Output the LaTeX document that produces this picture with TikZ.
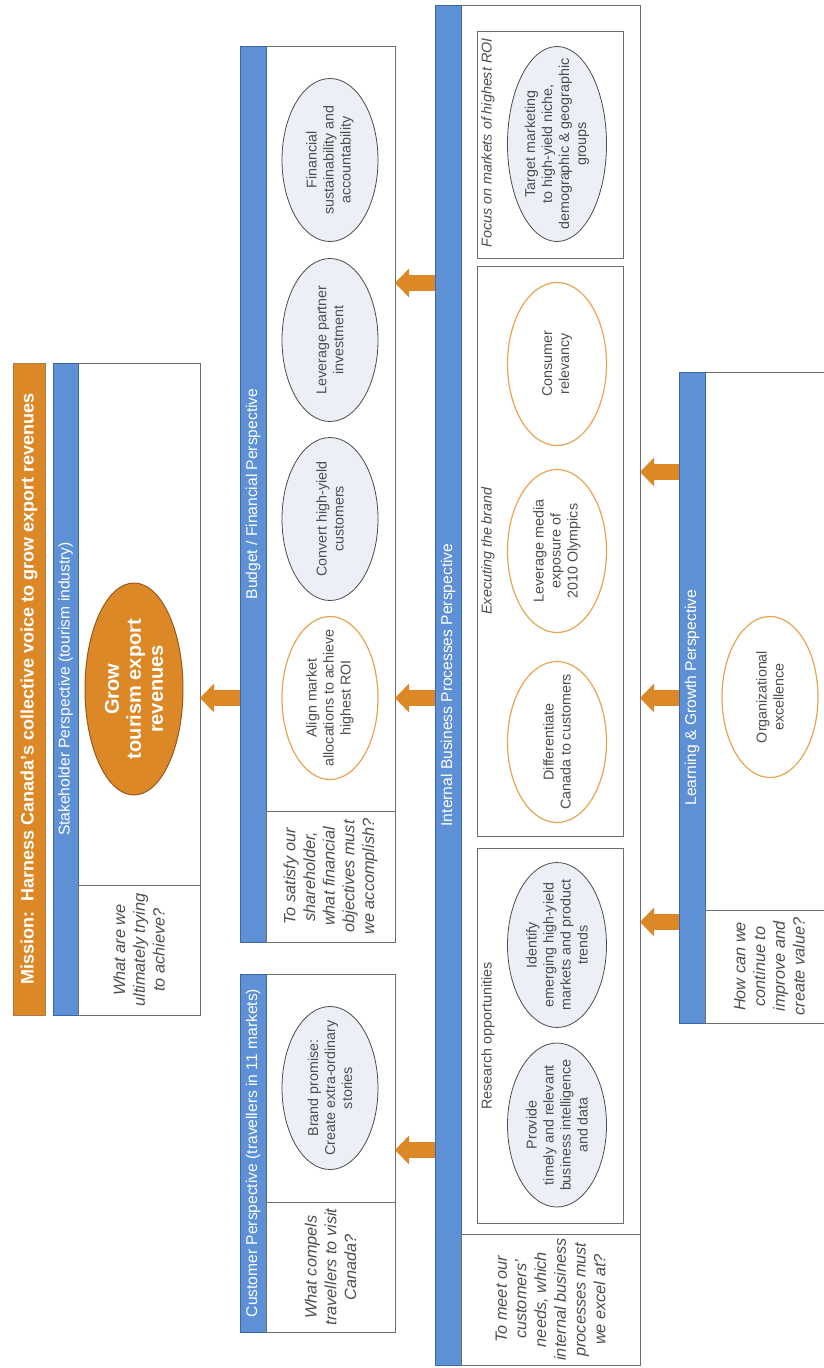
\documentclass[tikz,border=0pt]{standalone}
\usepackage{fontspec}
\setmainfont{Liberation Sans}
\usetikzlibrary{shapes.geometric,arrows.meta}
\definecolor{mapblue}{RGB}{94,144,214}
\definecolor{mapblueedge}{RGB}{62,103,168}
\definecolor{maporange}{RGB}{221,136,38}
\definecolor{maporangeedge}{RGB}{150,90,30}
\definecolor{ringorange}{RGB}{230,165,80}
\definecolor{paleoval}{RGB}{237,239,247}
\definecolor{inkgray}{RGB}{78,78,78}
\definecolor{linegray}{RGB}{110,110,110}

\begin{document}
\begin{tikzpicture}[x=1pt,y=1pt,
  panel/.style={rectangle, draw=linegray, line width=0.9pt, inner sep=0pt, outer sep=0pt, anchor=north west},
  headbar/.style={rectangle, rotate=90, fill=mapblue, draw=mapblueedge, line width=0.8pt, inner sep=0pt, outer sep=0pt, text=white, font=\fontsize{15.6}{18}\selectfont},
  qcell/.style={rectangle, rotate=90, draw=linegray, line width=0.9pt, inner sep=0pt, outer sep=0pt, align=center, text=inkgray, font=\fontsize{16.3}{19.7}\selectfont\itshape},
  goal/.style={ellipse, rotate=90, inner sep=0pt, outer sep=0pt},
  goaltext/.style={rotate=90, inner sep=0pt, align=center, text=inkgray, font=\fontsize{14.3}{17}\selectfont},
  pale/.style={goal, fill=paleoval, draw=black!70, line width=0.8pt},
  ring/.style={goal, fill=white, draw=ringorange, line width=1.2pt},
  caption/.style={rotate=90, inner sep=0pt, text=inkgray, font=\fontsize{14.3}{17}\selectfont},
  flow/.style={draw=maporange, line width=16pt, -{Triangle[length=14pt,width=28pt]}}
]
\useasboundingbox (0,0) rectangle (824,-1368);
\clip (0,0) rectangle (824,-1368);
\fill[white] (0,0) rectangle (824,-1368);

% levels of the connecting arrows
\coordinate (lvA) at (0,-698);
\coordinate (lvB) at (0,-283);
\coordinate (lvC) at (0,-1150);
\coordinate (lvD) at (0,-472);
\coordinate (lvE) at (0,-922);

% mission banner
\node[headbar, fill=maporange, draw=maporangeedge!80, minimum width=652pt, minimum height=32pt,
      font=\fontsize{18}{20}\selectfont\bfseries] (mission) at (29,-689)
      {Mission:\ \ Harness Canada's collective voice to grow export revenues};

% stakeholder perspective
\node[panel, minimum width=147pt, minimum height=652pt] (stakebox) at (53,-363) {};
\node[headbar, minimum width=652pt, minimum height=25pt] (stakebar) at (65.5,-689)
      {Stakeholder Perspective (tourism industry)};
\node[qcell, minimum width=130pt, minimum height=122pt] (stakeq) at (139,-950)
      {What are we\\ultimately trying\\to achieve?};
\node[goal, fill=maporange, draw=maporangeedge, line width=1pt, minimum width=212pt, minimum height=98pt] (grow) at (134,-689) {};
\node[goaltext, text=white, font=\fontsize{20}{22}\selectfont\bfseries] (growtext) at (grow.center)
      {Grow\\tourism export\\revenues};

% budget / financial perspective
\node[panel, minimum width=155pt, minimum height=896pt] (budbox) at (240,-46) {};
\node[headbar, minimum width=896pt, minimum height=26pt] (budbar) at (253,-494)
      {Budget / Financial Perspective};
\node[qcell, minimum width=131pt, minimum height=129pt] (budq) at (330.5,-876.5)
      {To satisfy our\\shareholder,\\what financial\\objectives must\\we accomplish?};
\node[pale, minimum width=163pt, minimum height=96pt] (fin) at (330,-160) {};
\node[goaltext] (fintext) at (fin.center) {Financial\\sustainability and\\accountability};
\node[pale, minimum width=163pt, minimum height=96pt] (partner) at (330,-340) {};
\node[goaltext] (partnertext) at (partner.center) {Leverage partner\\investment};
\node[pale, minimum width=163pt, minimum height=96pt] (convert) at (330,-519) {};
\node[goaltext] (converttext) at (convert.center) {Convert high-yield\\customers};
\node[ring, minimum width=163pt, minimum height=96pt] (align) at (330,-698) {};
\node[goaltext] (aligntext) at (align.center) {Align market\\allocations to achieve\\highest ROI};

% customer perspective
\node[panel, minimum width=155pt, minimum height=358pt] (custbox) at (240,-974) {};
\node[headbar, minimum width=358pt, minimum height=26pt] (custbar) at (253,-1153)
      {Customer Perspective (travellers in 11 markets)};
\node[qcell, minimum width=130pt, minimum height=129pt] (custq) at (330.5,-1267)
      {What compels\\travellers to visit\\Canada?};
\node[pale, minimum width=163pt, minimum height=96pt] (brand) at (330,-1088) {};
\node[goaltext] (brandtext) at (brand.center) {Brand promise:\\Create extra-ordinary\\stories};

% internal business processes perspective
\node[panel, minimum width=205pt, minimum height=1360pt] (intbox) at (435,-5) {};
\node[headbar, minimum width=1360pt, minimum height=26pt] (intbar) at (448,-685)
      {Internal Business Processes Perspective};
\node[qcell, minimum width=131pt, minimum height=179pt] (intq) at (550.5,-1299.5)
      {To meet our\\customers'\\needs, which\\internal business\\processes must\\we excel at?};
\node[panel, minimum width=146pt, minimum height=227pt] (focusbox) at (477,-31) {};
\node[panel, minimum width=146pt, minimum height=570pt] (execbox) at (477,-266) {};
\node[panel, minimum width=146pt, minimum height=375pt] (resbox) at (477,-848) {};
\node[caption, font=\fontsize{14.3}{17}\selectfont\itshape] (focuslbl) at (488,-143)
      {Focus on markets of highest ROI};
\node[caption, font=\fontsize{14.3}{17}\selectfont\itshape] (execlbl) at (488,-551)
      {Executing the brand};
\node[caption] (reslbl) at (488,-1036) {Research opportunities};
\node[pale, minimum width=195pt, minimum height=99pt] (target) at (557,-144) {};
\node[goaltext] (targettext) at (target.center)
      {Target marketing\\to high-yield niche,\\demographic \& geographic\\groups};
\node[ring, minimum width=163pt, minimum height=99pt] (relevancy) at (557,-364) {};
\node[goaltext] (relevancytext) at (relevancy.center) {Consumer\\relevancy};
\node[ring, minimum width=163pt, minimum height=99pt] (media) at (557,-551) {};
\node[goaltext] (mediatext) at (media.center) {Leverage media\\exposure of\\2010 Olympics};
\node[ring, minimum width=161pt, minimum height=99pt] (differ) at (557,-742) {};
\node[goaltext] (differtext) at (differ.center) {Differentiate\\Canada to customers};
\node[pale, minimum width=165pt, minimum height=99pt] (identify) at (557,-945) {};
\node[goaltext] (identifytext) at (identify.center)
      {Identify\\emerging high-yield\\markets and product\\trends};
\node[pale, minimum width=164pt, minimum height=99pt] (provide) at (557,-1125) {};
\node[goaltext] (providetext) at (provide.center)
      {Provide\\timely and relevant\\business intelligence\\and data};

% learning & growth perspective
\node[panel, minimum width=161pt, minimum height=651pt] (learnbox) at (679,-372) {};
\node[headbar, minimum width=651pt, minimum height=26pt] (learnbar) at (692,-697.5)
      {Learning \& Growth Perspective};
\node[qcell, minimum width=113pt, minimum height=129pt] (learnq) at (769.5,-966.5)
      {How can we\\continue to\\improve and\\create value?};
\node[ring, minimum width=161pt, minimum height=96pt] (org) at (770,-697) {};
\node[goaltext] (orgtext) at (org.center) {Organizational\\excellence};

% cause-and-effect arrows between perspectives
\draw[flow] (budbox.west |- lvA) -- (stakebox.east |- lvA);
\draw[flow] (intbox.west |- lvA) -- (budbox.east |- lvA);
\draw[flow] (intbox.west |- lvB) -- (budbox.east |- lvB);
\draw[flow] (intbox.west |- lvC) -- (custbox.east |- lvC);
\draw[flow] (learnbox.west |- lvD) -- (intbox.east |- lvD);
\draw[flow] (learnbox.west |- lvA) -- (intbox.east |- lvA);
\draw[flow] (learnbox.west |- lvE) -- (intbox.east |- lvE);
\end{tikzpicture}
\end{document}
